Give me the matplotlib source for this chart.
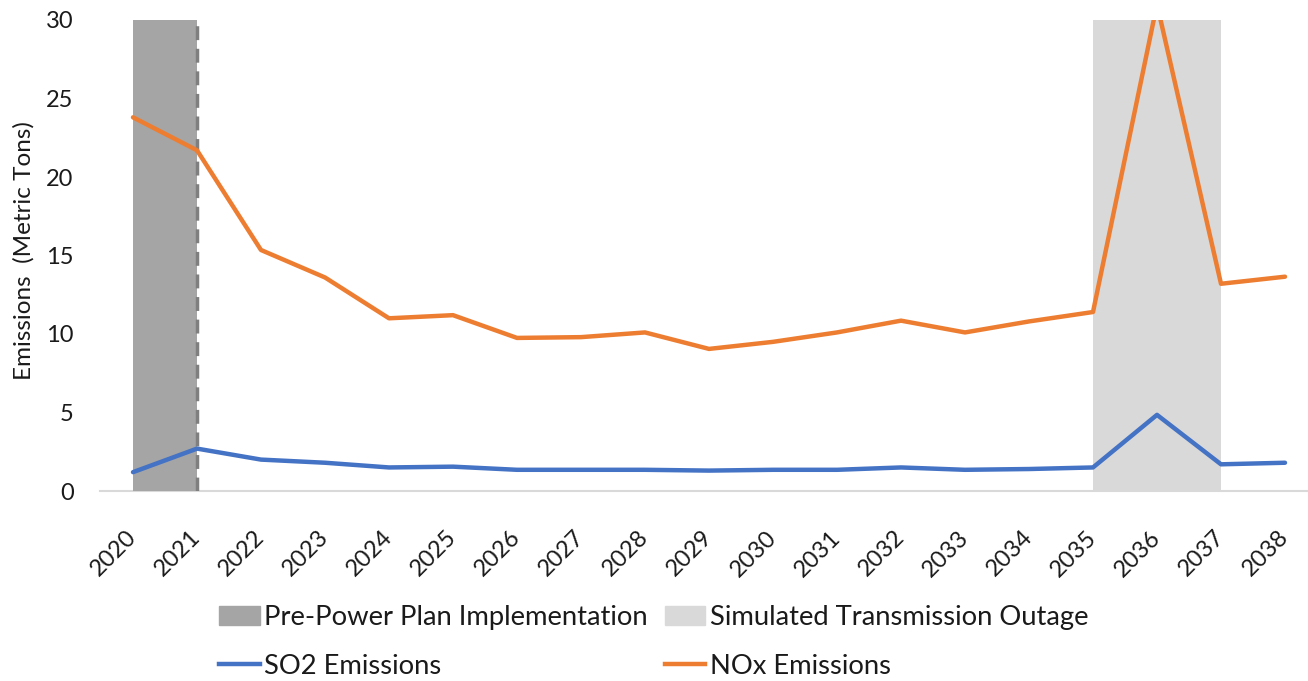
import matplotlib
matplotlib.use("Agg")
import matplotlib.pyplot as plt
from matplotlib.patches import Patch
from matplotlib.lines import Line2D
from matplotlib.transforms import ScaledTranslation

years = list(range(2020, 2039))
so2 = [1.2, 2.7, 2.0, 1.8, 1.5, 1.55, 1.35, 1.35, 1.35, 1.3, 1.35, 1.35, 1.5, 1.35, 1.4, 1.5, 4.85, 1.7, 1.8]
nox = [23.8, 21.7, 15.35, 13.6, 11.0, 11.2, 9.75, 9.8, 10.1, 9.05, 9.5, 10.1, 10.85, 10.1, 10.8, 11.4, 31.0, 13.2, 13.65]
pre_span = (2020, 2021)
outage_span = (2035, 2037)
yticks = [0, 5, 10, 15, 20, 25, 30]

plt.rcParams['font.family'] = ['Lato', 'DejaVu Sans']

fig = plt.figure(figsize=(13.08, 6.81), dpi=100)
ax = fig.add_axes([100/1308, 1-491/681, 1-100/1308, (491-20)/681])

ax.axvspan(*pre_span, color='#A5A5A5', lw=0, zorder=1)
ax.axvspan(*outage_span, color='#D9D9D9', lw=0, zorder=1)
ax.axvline(pre_span[1], color='#7F7F7F', lw=2.5, ls=(0, (4, 2.5)), zorder=2)

ax.plot(years, so2, color='#4472C4', lw=3.2, solid_capstyle='round', zorder=3)
ax.plot(years, nox, color='#ED7D31', lw=3.2, solid_capstyle='round', zorder=3)

ax.set_ylim(0, 30)
ax.set_xlim(2020 - 33/64, 2038 + 23/64)
ax.set_yticks(yticks)
ax.set_xticks(years)
ax.set_xticklabels([str(y) for y in years], rotation=45, ha='right', va='center',
                   rotation_mode='anchor', fontsize=17, color='#1a1a1a')
off = ScaledTranslation(-4/100, 0, fig.dpi_scale_trans)
for lbl in ax.get_xticklabels():
    lbl.set_transform(lbl.get_transform() + off)
ax.tick_params(axis='y', length=0, labelsize=17, labelcolor='#1a1a1a', pad=19)
ax.tick_params(axis='x', length=0, pad=31)
for s in ['top', 'right', 'left']:
    ax.spines[s].set_visible(False)
ax.spines['bottom'].set_color('#D9D9D9')
ax.spines['bottom'].set_linewidth(1.5)
ax.spines['bottom'].set_zorder(0)

fig.text(24/1308, 1-251/681, 'Emissions  (Metric Tons)', rotation=90, ha='center', va='center',
         fontsize=17.5, color='#1a1a1a')

handles = [
    Patch(color='#A5A5A5'),
    Line2D([], [], color='#4472C4', lw=3.2),
    Patch(color='#D9D9D9'),
    Line2D([], [], color='#ED7D31', lw=3.2),
]
labels = ['Pre-Power Plan Implementation', 'SO2 Emissions', 'Simulated Transmission Outage', 'NOx Emissions']
fig.legend(handles, labels, ncol=2, loc='center', bbox_to_anchor=(654/1308, 1-642/681),
           frameon=False, fontsize=19.7, labelcolor='#1a1a1a', handlelength=1.47, handletextpad=0.18,
           columnspacing=0.62, labelspacing=0.85, borderpad=0.2)

fig.savefig('out.png', dpi=100)
